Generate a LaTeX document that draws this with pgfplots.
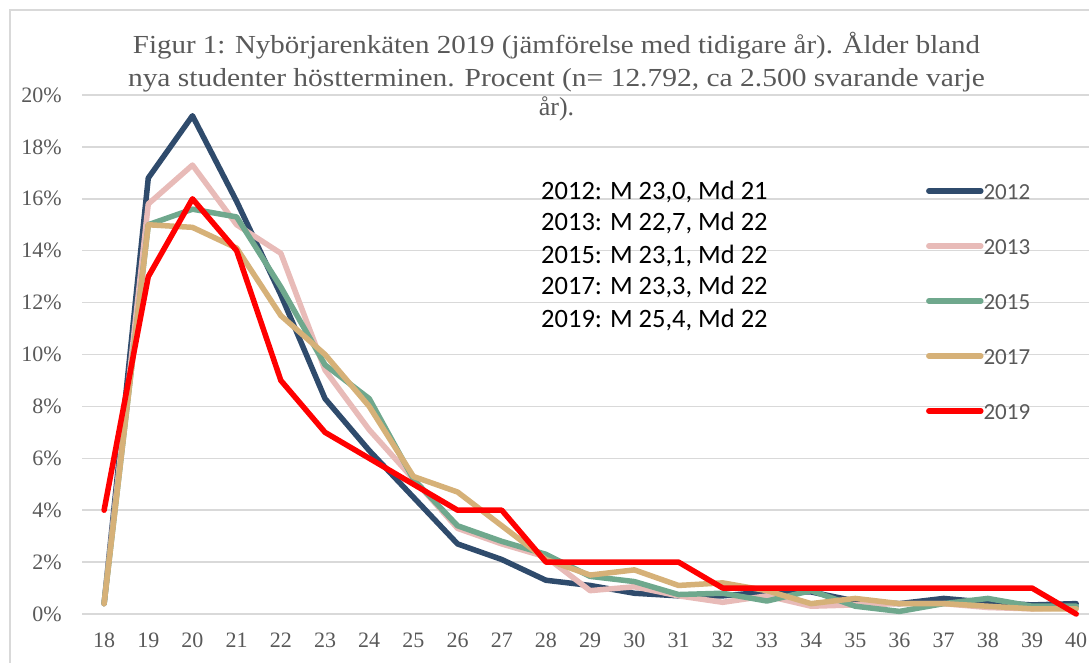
\documentclass[border=0pt]{standalone}
\usepackage{pgfplots}
\pgfplotsset{compat=1.18}
\usepackage{fontspec}
\usepackage{graphicx}
\setmainfont{Liberation Serif}
\newfontfamily\calibri{Carlito}
\definecolor{c12}{HTML}{2F4B6C}
\definecolor{c13}{HTML}{E8BBB8}
\definecolor{c15}{HTML}{6FA88D}
\definecolor{c17}{HTML}{D6B178}
\definecolor{c19}{HTML}{FF0000}
\definecolor{tickgray}{HTML}{595959}
\definecolor{gridgray}{HTML}{D9D9D9}
\begin{document}
\begin{tikzpicture}[x=1pt,y=1pt]
\path[use as bounding box] (0,0) rectangle (1089,662);
\draw[gridgray, line width=1.5pt] (10,-10) -- (10,652) -- (1100,652);
\begin{axis}[
  at={(82pt,48pt)}, anchor=south west,
  scale only axis, width=1007pt, height=519pt,
  xmin=17.5, xmax=40.29, ymin=0, ymax=20,
  axis line style={draw=none},
  tick style={draw=none}, major tick length=0pt,
  xtick={18,...,40}, ytick={0,2,...,20},
  ymajorgrids, grid style={gridgray, line width=1.5pt},
  clip=false,
  /pgf/number format/assume math mode=true,
  yticklabel={\pgfmathprintnumber{\tick}\%},
  tick label style={font=\fontsize{22}{22}\selectfont, text=tickgray},
  yticklabel style={anchor=east, inner sep=0pt, xshift=-20pt},
  xticklabel style={anchor=north, inner sep=0pt, yshift=-19pt},
  every axis plot/.append style={line width=5.5pt, line join=round, line cap=round},
  legend style={at={(0.838,0.829)}, anchor=north west, draw=none, fill=none, inner sep=0pt,
    font=\calibri\fontsize{23}{23}\selectfont, text=tickgray, row sep=39pt,
    nodes={inner sep=0pt, text height=16pt, text depth=0pt}},
  legend cell align=left,
  legend image code/.code={\draw[#1, line width=5.5pt, line cap=round] (3pt,1pt) -- (55pt,1pt);},
]
\addplot[c12] coordinates {(18,0.4) (19,16.8) (20,19.2) (21,15.9) (22,12.3) (23,8.3) (24,6.3) (25,4.5) (26,2.7) (27,2.1) (28,1.3) (29,1.1) (30,0.8) (31,0.7) (32,0.7) (33,0.85) (34,0.85) (35,0.5) (36,0.4) (37,0.6) (38,0.45) (39,0.35) (40,0.4)};
\addlegendentry{2012}
\addplot[c13] coordinates {(18,0.4) (19,15.8) (20,17.3) (21,15.0) (22,13.9) (23,9.4) (24,7.1) (25,5.2) (26,3.3) (27,2.7) (28,2.2) (29,0.9) (30,1.05) (31,0.7) (32,0.45) (33,0.7) (34,0.3) (35,0.35) (36,0.4) (37,0.4) (38,0.25) (39,0.2) (40,0.25)};
\addlegendentry{2013}
\addplot[c15] coordinates {(18,0.4) (19,15.0) (20,15.6) (21,15.3) (22,12.6) (23,9.6) (24,8.3) (25,5.2) (26,3.4) (27,2.8) (28,2.3) (29,1.45) (30,1.25) (31,0.75) (32,0.8) (33,0.5) (34,0.9) (35,0.3) (36,0.1) (37,0.4) (38,0.6) (39,0.3) (40,0.3)};
\addlegendentry{2015}
\addplot[c17] coordinates {(18,0.4) (19,15.0) (20,14.9) (21,14.1) (22,11.5) (23,10.0) (24,8.0) (25,5.3) (26,4.7) (27,3.4) (28,2.1) (29,1.5) (30,1.7) (31,1.1) (32,1.2) (33,0.9) (34,0.4) (35,0.6) (36,0.4) (37,0.4) (38,0.3) (39,0.2) (40,0.2)};
\addlegendentry{2017}
\addplot[c19] coordinates {(18,4) (19,13) (20,16) (21,14) (22,9) (23,7) (24,6) (25,5) (26,4) (27,4) (28,2) (29,2) (30,2) (31,2) (32,1) (33,1) (34,1) (35,1) (36,1) (37,1) (38,1) (39,1) (40,0)};
\addlegendentry{2019}
\end{axis}
\begin{scope}[every node/.style={anchor=base west, inner sep=0pt, font=\calibri\fontsize{26.5}{26.5}\selectfont}]
\node at (541,462.7) {2012: M 23,0, Md 21};
\node at (541,431) {2013: M 22,7, Md 22};
\node at (541,398.7) {2015: M 23,1, Md 22};
\node at (541,367) {2017: M 23,3, Md 22};
\node at (541,334.7) {2019: M 25,4, Md 22};
\end{scope}
\begin{scope}[every node/.style={anchor=base, inner sep=0pt, text=tickgray, font=\fontsize{26}{26}\selectfont}]
\node at (556.5,608) {\resizebox{847pt}{\height}{Figur 1: Nybörjarenkäten 2019 (jämförelse med tidigare år). Ålder bland}};
\node at (556.5,575) {\resizebox{857pt}{\height}{nya studenter höstterminen. Procent (n= 12.792, ca 2.500 svarande varje}};
\node at (556.5,546) {år).};
\end{scope}
\end{tikzpicture}
\end{document}
